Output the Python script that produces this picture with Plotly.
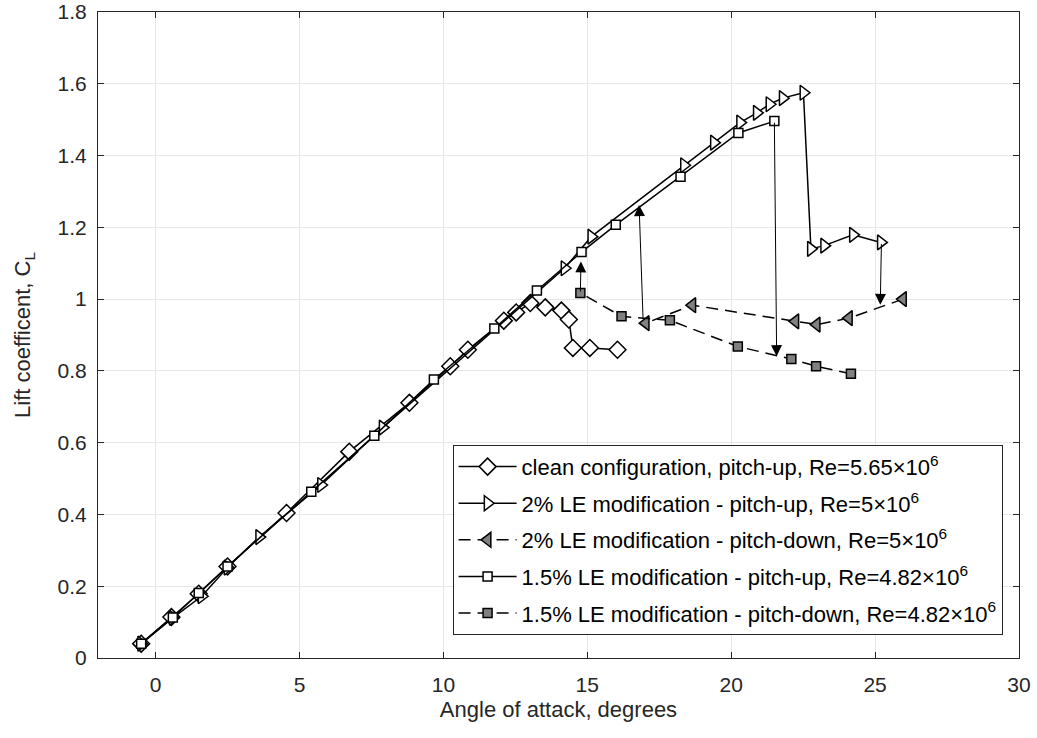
import plotly.graph_objects as go

# ---- data ----
clean_aoa = [-0.5, 0.55, 1.5, 2.5, 4.55, 6.73, 8.82, 10.24, 10.85, 12.10, 12.53, 13.02, 13.54, 14.10, 14.36, 14.50, 15.09, 16.05]
clean_cl = [0.040, 0.114, 0.179, 0.255, 0.404, 0.575, 0.711, 0.813, 0.859, 0.940, 0.963, 0.989, 0.977, 0.968, 0.943, 0.864, 0.864, 0.859]

le2_up_aoa = [-0.5, 0.6, 1.6, 2.5, 3.60, 5.75, 7.89, 14.21, 15.14, 18.36, 19.40, 20.31, 20.89, 21.33, 21.79, 22.51, 22.77, 23.23, 24.23, 25.20]
le2_up_cl = [0.040, 0.112, 0.172, 0.252, 0.337, 0.482, 0.642, 1.086, 1.174, 1.373, 1.436, 1.492, 1.519, 1.543, 1.560, 1.575, 1.140, 1.149, 1.179, 1.158]

le2_down_aoa = [25.97, 24.09, 22.97, 22.23, 18.65, 17.03]
le2_down_cl = [1.000, 0.947, 0.929, 0.938, 0.983, 0.933]

le15_up_aoa = [-0.5, 0.6, 1.5, 2.5, 5.41, 7.60, 9.67, 11.77, 13.25, 14.80, 15.99, 18.24, 20.25, 21.50]
le15_up_cl = [0.040, 0.113, 0.181, 0.255, 0.463, 0.619, 0.776, 0.918, 1.024, 1.131, 1.207, 1.341, 1.463, 1.496]

le15_down_aoa = [24.16, 22.95, 22.09, 20.23, 17.87, 16.19, 14.76]
le15_down_cl = [0.792, 0.813, 0.833, 0.868, 0.941, 0.952, 1.017]

# arrows: tail (from) -> head (to)
arrow_from_aoa = [14.76, 16.94, 21.50, 25.22]
arrow_from_cl = [1.017, 0.940, 1.496, 1.158]
arrow_to_aoa = [14.78, 16.80, 21.58, 25.18]
arrow_to_cl = [1.105, 1.262, 0.841, 0.984]

x_ticks = [0, 5, 10, 15, 20, 25, 30]
y_ticks = [0, 0.2, 0.4, 0.6, 0.8, 1.0, 1.2, 1.4, 1.6, 1.8]

names = [
    "clean configuration, pitch-up, Re=5.65×10<sup>6</sup>",
    "2% LE modification - pitch-up, Re=5×10<sup>6</sup>",
    "2% LE modification - pitch-down, Re=5×10<sup>6</sup>",
    "1.5% LE modification - pitch-up, Re=4.82×10<sup>6</sup>",
    "1.5% LE modification - pitch-down, Re=4.82×10<sup>6</sup>",
]

FONT = "Liberation Sans, Arial, Helvetica, sans-serif"
INK = "#262626"
DASH = "12px,7px"

fig = go.Figure()

def add(xs, ys, name, symbol, fill, size, dash, grp):
    fig.add_trace(go.Scatter(
        x=xs, y=ys, name=name, mode="lines+markers", legendgroup=grp,
        line=dict(color="black", width=1.5, dash=dash),
        marker=dict(symbol=symbol, size=size, color=fill,
                    line=dict(color="black", width=1.5)),
    ))

add(clean_aoa, clean_cl, names[0], "diamond", "white", 13, "solid", "g1")
add(le2_up_aoa, le2_up_cl, names[1], "triangle-right", "white", 13, "solid", "g2")
add(le2_down_aoa, le2_down_cl, names[2], "triangle-left", "#808080", 13, DASH, "g3")
add(le15_up_aoa, le15_up_cl, names[3], "square", "white", 9, "solid", "g4")
add(le15_down_aoa, le15_down_cl, names[4], "square", "#808080", 9, DASH, "g5")

for xa, ya, xb, yb in zip(arrow_from_aoa, arrow_from_cl, arrow_to_aoa, arrow_to_cl):
    fig.add_annotation(
        x=xb, y=yb, ax=xa, ay=ya, xref="x", yref="y", axref="x", ayref="y",
        text="", showarrow=True, arrowhead=2, arrowsize=2.2, arrowwidth=1,
        arrowcolor="black", standoff=0, startstandoff=0,
    )

axis_common = dict(
    showgrid=True, gridcolor="#e6e6e6", gridwidth=1,
    zeroline=False, showline=True, linecolor=INK, linewidth=1, mirror="ticks",
    ticks="inside", ticklen=6, tickcolor=INK, tickwidth=1,
    tickfont=dict(family=FONT, size=21, color=INK),
    ticklabeloverflow="allow", automargin=False,
)

fig.update_layout(
    width=1037, height=738,
    margin=dict(l=98, r=18, t=12, b=80),
    paper_bgcolor="white", plot_bgcolor="white",
    font=dict(family=FONT, color=INK),
    xaxis=dict(range=[-2, 30], tickvals=x_ticks,
               title=dict(text="Angle of attack, degrees", font=dict(family=FONT, size=22, color=INK), standoff=6),
               ticklabelstandoff=8, **axis_common),
    yaxis=dict(range=[0, 1.8], tickvals=y_ticks,
               ticktext=[("%g" % v) for v in y_ticks],
               title=dict(text="Lift coefficent, C<sub>L</sub>", font=dict(family=FONT, size=22, color=INK), standoff=20),
               ticklabelstandoff=6, **axis_common),
    showlegend=True,
    legend=dict(x=0.385, y=0.33, xanchor="left", yanchor="top",
                bgcolor="white", bordercolor=INK, borderwidth=1,
                font=dict(family=FONT, size=22, color="black"),
                itemwidth=58, tracegroupgap=5),
)

fig.write_html("out.html")
